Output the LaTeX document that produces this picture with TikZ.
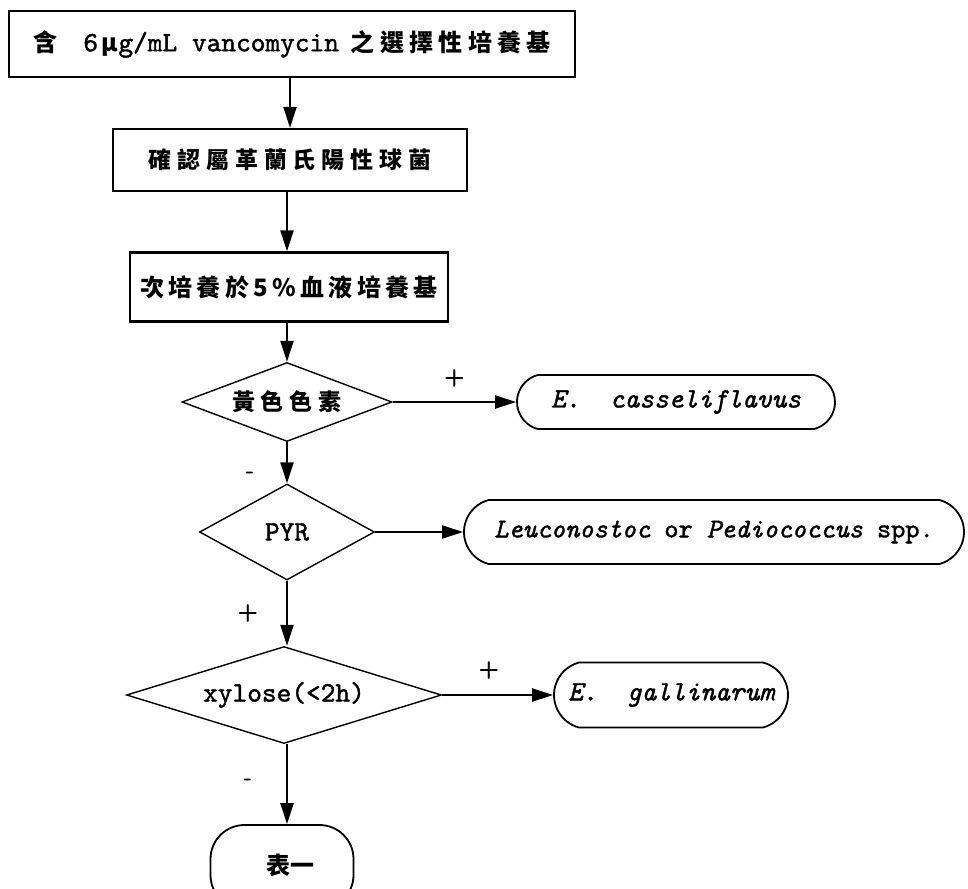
\documentclass[tikz,border=0pt]{standalone}
\usepackage{fontspec}
\usetikzlibrary{shapes.geometric,shapes.misc,arrows.meta}
\newfontfamily\cjk{Noto Sans CJK TC}
\newfontfamily\cjkS{Noto Sans CJK TC}[LetterSpace=18]
\newfontfamily\cjkB{Noto Sans CJK TC}[LetterSpace=22]
\newfontfamily\cjkW{Noto Sans CJK TC}[LetterSpace=26]
\newfontfamily\mono{lmmono10-regular}[Extension=.otf, ItalicFont=lmmono10-italic, FakeBold=1.4]
\newcommand\zhA{\fontsize{24}{28}\selectfont\cjk\bfseries}
\newcommand\zhS{\fontsize{24}{28}\selectfont\cjkS\bfseries}
\newcommand\zhB{\fontsize{24}{28}\selectfont\cjkB\bfseries}
\newcommand\zhW{\fontsize{23}{28}\selectfont\cjkW\bfseries}
\newcommand\lat{\fontsize{28}{30}\selectfont\mono}
\begin{document}
\begin{tikzpicture}[x=1pt,y=-1pt,
  box/.style={draw, line width=2.2pt, rectangle, inner sep=0pt},
  term/.style={draw, line width=1.8pt, rounded rectangle, rounded rectangle arc length=150, inner sep=0pt},
  dec/.style={draw, line width=1.4pt, diamond, inner sep=0pt},
  arr/.style={line width=2.2pt, -{Triangle[length=21pt,width=13pt]}},
  lbl/.style={font=\fontsize{24}{24}\selectfont\sffamily\bfseries, inner sep=0pt}]
\useasboundingbox (0,0) rectangle (968,888);
\fill[white] (0,0) rectangle (968,888);
\clip (0,0) rectangle (968,888);

\node[box, minimum width=566pt, minimum height=66pt] (b1) at (292,44)
  {{\zhA 含}\hspace{26pt}{\lat 6}\hspace{3pt}{\zhA μ}\hspace{1pt}{\lat g/mL vancomycin}\hspace{12pt}{\zhB 之選擇性培養基}};
\node[box, minimum width=354pt, minimum height=62pt] (b2) at (290,160)
  {\zhW 確認屬革蘭氏陽性球菌};
\node[box, minimum width=318pt, minimum height=69pt] (b3) at (289,287)
  {\zhS 次培養於5\%血液培養基};

\node[dec, minimum width=210pt, minimum height=79pt, label={[font=\zhW]center:黃色色素}] (d1) at (287,402) {};
\node[dec, minimum width=175pt, minimum height=96pt, label={[font=\lat]center:PYR}] (d2) at (287,532) {};
\node[dec, minimum width=315pt, minimum height=97pt, label={[font=\lat]center:xylose(<2h)}] (d3) at (284,695) {};

\node[term, minimum width=318pt, minimum height=54pt] (c1) at (676,402)
  {\lat\itshape E.~~casseliflavus};
\node[term, minimum width=500pt, minimum height=64pt] (c2) at (714,532)
  {\fontsize{27}{30}\selectfont\mono{\itshape Leuconostoc} or {\itshape Pediococcus} spp.};
\node[term, minimum width=234pt, minimum height=65pt] (c3) at (671,695)
  {\lat\itshape E.~~gallinarum};

\node[draw, line width=1.8pt, rounded corners=34pt, minimum width=143pt, minimum height=84pt, inner sep=0pt] (t1) at (282,867) {};
\node[font=\zhA] (t1txt) at (290,865) {表一};

\draw[arr] (b1.south -| b2.north) -- (b2.north);
\draw[arr] (b2.south -| d1.north) -- (b3.north -| d1.north);
\draw[arr] (b3.south -| d1.north) -- (d1.north);
\draw[arr] (d1.south) -- node[lbl, pos=0.8, xshift=-37pt] {-} (d2.north);
\draw[arr] (d2.south) -- node[lbl, pos=0.5, xshift=-39pt] {+} (d3.north -| d2.south);
\draw[arr] (d3.south -| d2.south) -- node[lbl, pos=0.48, xshift=-39pt] {-} (t1.north -| d2.south);
\draw[arr] (d1.east) -- node[lbl, above=14pt] {+} (c1.west);
\draw[arr] (d2.east) -- (c2.west);
\draw[arr] (d3.east) -- node[lbl, above=15pt, pos=0.42] {+} (c3.west);
\end{tikzpicture}
\end{document}
